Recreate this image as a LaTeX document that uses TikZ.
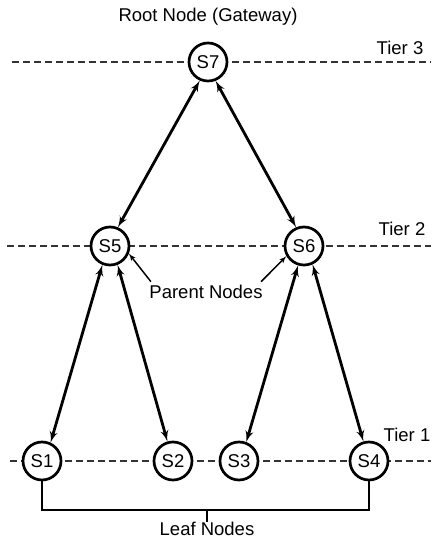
\documentclass[tikz,border=0pt]{standalone}
\usepackage{fontspec}
\setmainfont{Liberation Sans}
\usepackage{tikz}
\usetikzlibrary{arrows}
\usetikzlibrary{positioning}
\tikzset{sensor/.style = {draw, circle, fill = white, line width = 2.7, inner sep = 0, minimum size = 38}}
\tikzset{tier/.style = {dashed, dash pattern = on 7 off 4, line width = 1.5, black!80}}
\tikzset{link/.style = {latex'-latex', line width = 2.8}}

\begin{document}
\begin{tikzpicture}[x = 1pt, y = 1pt, font = \fontsize{18.5}{21}\selectfont]
      \useasboundingbox (0, 0) rectangle (431, 540);

      \draw [tier] (12, 478) -- (431, 478);
      \draw [tier] (7, 294) -- (431, 294);
      \draw [tier] (10, 79) -- (431, 79);

      \node (t3) at (400, 492) {Tier 3};
      \node (t2) at (402, 311) {Tier 2};
      \node (t1) at (407, 105) {Tier 1};

      \node [sensor] (s7) at (208, 478) {S7};
      \node [above = 13 of s7] (root) {Root Node (Gateway)};

      \node [sensor] (s5) at (110, 294) {S5};
      \node [sensor] (s6) at (304, 294) {S6};
      \node (pn) at (206, 248) {Parent Nodes};

      \node [sensor] (s1) at (42, 79) {S1};
      \node [sensor] (s2) at (173, 79) {S2};
      \node [sensor] (s3) at (239, 79) {S3};
      \node [sensor] (s4) at (369, 79) {S4};

      \draw [link] (s7.246) -- (s5.67);
      \draw [link] (s7.292) -- (s6.113);

      \draw [link] (s5.248) -- (s1.65);
      \draw [link] (s5.292) -- (s2.106);
      \draw [link] (s6.253) -- (s3.69);
      \draw [link] (s6.295) -- (s4.106);

      \draw [-latex', line width = 1.5] ([xshift = 5]pn.north west) -- (s5.338);
      \draw [-latex', line width = 1.5] ([xshift = -5]pn.north east) -- (s6.210);

      % leaf bracket
      \coordinate (lb) at (207, 30);
      \draw [line width = 1.8] (s1.south) |- (lb) -| (s4.south);
      \draw [line width = 1.8] (lb) -- ++(0, -12) coordinate (lt);
      \node [below = -3 of lt] (leaf) {Leaf Nodes};
    \end{tikzpicture}
\end{document}
